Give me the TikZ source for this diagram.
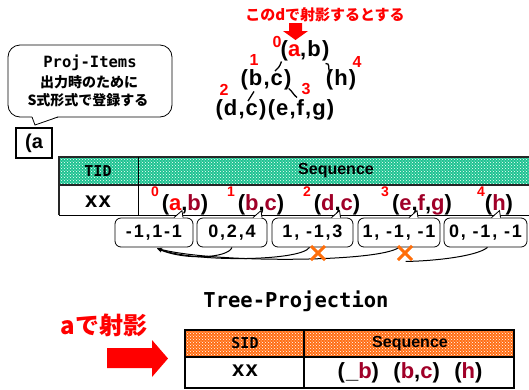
\documentclass[tikz,border=0pt]{standalone}
\usepackage{fontspec}
\setmainfont{Liberation Sans}
\newfontfamily\jp{Noto Sans CJK JP}
\newfontfamily\mono{DejaVu Sans Mono}
\usetikzlibrary{patterns,calc,arrows.meta}
\definecolor{dred}{RGB}{160,0,40}
\definecolor{tgreen}{RGB}{30,195,145}
\definecolor{torange}{RGB}{255,110,20}
\definecolor{xorange}{RGB}{255,110,10}
\newcommand{\fsz}[1]{\fontsize{#1}{#1}\selectfont}
\tikzset{
  treetxt/.style={inner sep=0pt, font=\bfseries\fsz{22}\addfontfeatures{LetterSpace=5}},
  rednum/.style={inner sep=0pt, text=red, font=\bfseries\fsz{16}},
  supnum/.style={inner sep=0pt, text=red, font=\bfseries\fsz{14}},
  item/.style={inner sep=0pt, font=\bfseries\fsz{22}\addfontfeatures{LetterSpace=5}},
  ptrbox/.style={draw, line width=0.8pt, fill=white, rounded corners=6pt, minimum height=29pt, inner sep=0pt, font=\bfseries\fsz{18}\addfontfeatures{LetterSpace=10}},
  tline/.style={line width=1.3pt},
  curve/.style={line width=1pt, -{Stealth[length=5pt,width=4pt]}},
  xmark/.style={xorange, line width=3pt},
  hdr/.style={inner sep=0pt, font=\bfseries\fsz{16}},
}
\begin{document}
\begin{tikzpicture}[x=1pt,y=-1pt]
\useasboundingbox (0,0) rectangle (529,389);

% ---- top annotation
\node[inner sep=0pt, text=red, font=\jp\bfseries\fsz{15}] (note) at (325,15) {このdで射影するとする};
\fill[red] (289,23) -- (302,23) -- (302,31) -- (308,31) -- (295.5,40) -- (283,31) -- (289,31) -- cycle;

% ---- tree
\node[treetxt] (ab) at (305,51) {(\textcolor{red}{a},b)};
\node[treetxt] (bc) at (266,80) {(b,c)};
\node[treetxt] (h) at (341,80) {(h)};
\node[treetxt] (dc) at (241,110) {(d,c)};
\node[treetxt] (efg) at (301,110) {(e,f,g)};
\node[rednum] (n0) at (277,42) {0};
\node[rednum] (n1) at (254,60) {1};
\node[rednum] (n4) at (357,62) {4};
\node[rednum] (n2) at (224,89.5) {2};
\node[rednum] (n3) at (306,89) {3};
\draw[tline] ([shift={(1,0)}]ab.south west) .. controls ($([shift={(1,0)}]ab.south west)+(-2,6)$) and ($([shift={(9,1.5)}]bc.north)+(3,-3)$) .. ([shift={(9,1.5)}]bc.north);
\draw[tline] ([shift={(-4,2)}]ab.south east) .. controls ($([shift={(-4,2)}]ab.south east)+(5,0)$) and ($([shift={(4,3)}]h.north west)+(-2,-5)$) .. ([shift={(4,3)}]h.north west);
\draw[tline] ([shift={(-12,1)}]bc.south) -- ([shift={(7,1.5)}]dc.north);
\draw[tline] ([shift={(-3,-2)}]bc.south east) .. controls ($([shift={(-3,-2)}]bc.south east)+(4,3)$) and ($([shift={(-4,-2)}]efg.north)+(-4,-3)$) .. ([shift={(-4,-2)}]efg.north);

% ---- callout
\draw[line width=0.8pt, fill=white, rounded corners=12pt] (8,45) rectangle (172,117);
\fill[white] (32,116.2) -- (35,125) -- (58,116.2) -- cycle;
\draw[line width=0.8pt] (32,117) -- (35,125) -- (58,117);
\node[inner sep=0pt, font=\mono\bfseries\fsz{15.5}] (pi) at (90,63) {Proj-Items};
\node[inner sep=0pt, font=\jp\bfseries\fsz{14}] (pj1) at (89,82) {出力時のために};
\node[inner sep=0pt, font=\jp\bfseries\fsz{14}] (pj2) at (88,100) {S式形式で登録する};

% ---- (a box
\node[draw, line width=1.2pt, minimum width=36pt, minimum height=30pt, inner sep=0pt, font=\bfseries\fsz{20}] (abox) at (34,143) {(a};

% ---- table 1
\fill[tgreen] (59,157) rectangle (530,185);
\fill[pattern=crosshatch dots, pattern color=white] (59,157) rectangle (530,185);
\draw[line width=1.5pt, black!85] (530,157) -- (59,157) -- (59,215);
\draw[line width=1.5pt, black!85] (59,185) -- (530,185);
\draw[line width=0.9pt] (59,215) -- (530,215);
\draw[line width=0.9pt] (138,157) -- (138,215);
\node[inner sep=0pt, font=\mono\bfseries\fsz{15}] (tid) at (98,171) {TID};
\node[hdr] (seq1) at (336,171) {Sequence};
\node[item] (xx1) at (98,202) {xx};

\node[item] (i1) at (185,205) {(\textcolor{red}{a},\textcolor{dred}{b})};
\node[item] (i2) at (261,205) {(\textcolor{dred}{b},\textcolor{dred}{c})};
\node[item] (i3) at (337,205) {(\textcolor{dred}{d},\textcolor{dred}{c})};
\node[item] (i4) at (422,205) {(\textcolor{dred}{e},\textcolor{dred}{f},\textcolor{dred}{g})};
\node[item] (i5) at (499,205) {(\textcolor{dred}{h})};
\node[supnum] (s0) at (155,192) {0};
\node[supnum] (s1) at (231,192) {1};
\node[supnum] (s2) at (307,192) {2};
\node[supnum] (s3) at (385,192) {3};
\node[supnum] (s4) at (481,192) {4};

% ---- pointer boxes
\node[ptrbox, minimum width=78pt] (b1) at (154,232.5) {-1,1-1};
\node[ptrbox, minimum width=70pt] (b2) at (232,232.5) {0,2,4};
\node[ptrbox, minimum width=81pt] (b3) at (312.5,232.5) {1, -1,3};
\node[ptrbox, minimum width=82pt] (b4) at (399,232.5) {1, -1, -1};
\node[ptrbox, minimum width=83pt] (b5) at (485.5,232.5) {0, -1, -1};
\foreach \b/\dx in {b1/27, b2/28, b3/26, b4/17, b5/13} {
  \fill[white] ([shift={(\dx-7,0.6)}]\b.north) -- ([shift={(\dx+1,-7)}]\b.north) -- ([shift={(\dx+2,0.6)}]\b.north) -- cycle;
  \draw[line width=0.8pt] ([shift={(\dx-7,0)}]\b.north) .. controls ([shift={(\dx-3,-3)}]\b.north) .. ([shift={(\dx+1,-7)}]\b.north) -- ([shift={(\dx+2,0)}]\b.north);
}

% ---- curves
\draw[curve] ([xshift=0pt]b2.south) .. controls ([shift={(-4,11)}]b2.south) and ([shift={(30,13)}]b1.south) .. ([shift={(3,1)}]b1.south);
\draw[curve] ([xshift=-3pt]b3.south) .. controls ([shift={(-12,14)}]b3.south) and ([shift={(40,15)}]b1.south) .. ([shift={(3,1)}]b1.south);
\draw[curve] ([xshift=0pt]b4.south) .. controls ([shift={(-20,15)}]b4.south) and ([shift={(60,16)}]b1.south) .. ([shift={(3,1)}]b1.south);
\draw[line width=1pt] ([xshift=2pt]b5.south) .. controls ([shift={(-10,10)}]b5.south) and ([shift={(-60,14)}]b5.south) .. ([shift={(-80,14)}]b5.south);

\draw[xmark] (311,246) -- (325,260) (325,246) -- (311,260);
\draw[xmark] (398,246) -- (412,260) (412,246) -- (398,260);

% ---- Tree-Projection
\node[inner sep=0pt, font=\mono\bfseries\fsz{20.5}] (tp) at (296,301) {Tree-Projection};
\node[inner sep=0pt, text=red, font=\jp\bfseries\fsz{24}] (aproj) at (104,325) {aで射影};
\fill[red] (107,348) -- (152,348) -- (152,340) -- (168,358.5) -- (152,377) -- (152,368) -- (107,368) -- cycle;

% ---- table 2
\fill[torange] (185,330) rectangle (514,357);
\fill[pattern=crosshatch dots, pattern color=white] (185,330) rectangle (514,357);
\draw[line width=1.5pt] (185,330) rectangle (514,388);
\draw[line width=1.2pt] (185,357) -- (514,357);
\draw[line width=1.2pt] (304,330) -- (304,388);
\node[inner sep=0pt, font=\mono\bfseries\fsz{15}] (sid) at (245,343.5) {SID};
\node[hdr] (seq2) at (410,343.5) {Sequence};
\node[item] (xx2) at (245,371) {xx};
\node[item] (res) at (410,373) {(\_\textcolor{dred}{b})\ \ (\textcolor{dred}{b},\textcolor{dred}{c})\ \ (\textcolor{dred}{h})};
\end{tikzpicture}
\end{document}
